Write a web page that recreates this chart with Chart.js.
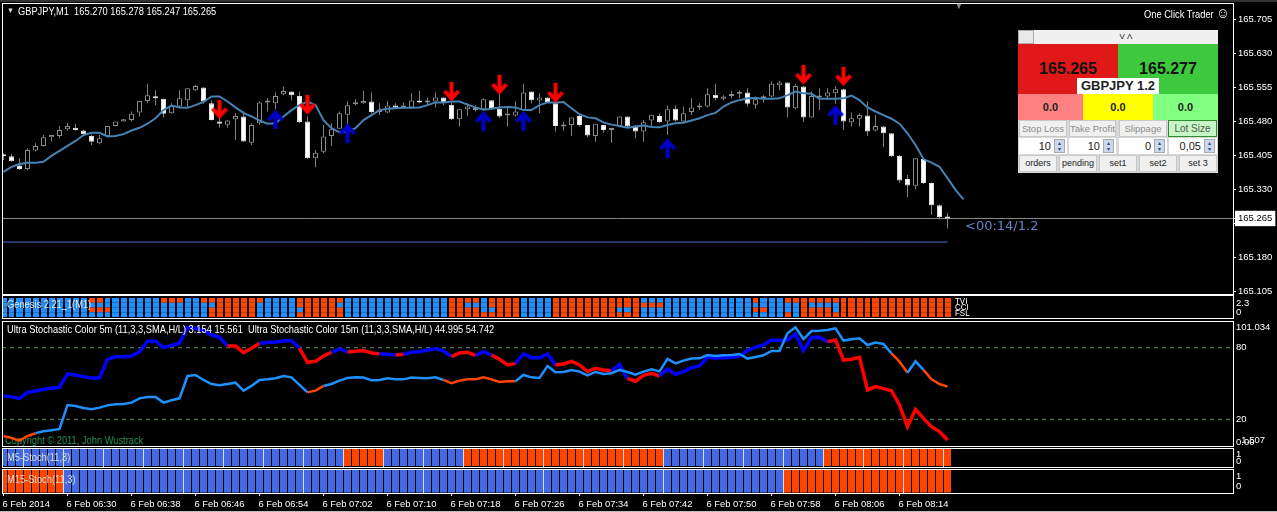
<!DOCTYPE html>
<html>
<head>
<meta charset="utf-8">
<title>GBPJPY M1</title>
<script src="https://cdn.jsdelivr.net/npm/chart.js@4/dist/chart.umd.js"></script>
<style>
  html, body { margin: 0; padding: 0; background: #000; width: 1277px; height: 512px; overflow: hidden; }
  body { font: 10.5px "Liberation Sans", sans-serif; color: #fff; }
  canvas { position: absolute; left: 0; z-index: 1; }
  .t { position: absolute; white-space: pre; z-index: 2; line-height: 12px; transform: scaleX(.885); transform-origin: left top; }
  #copyright { z-index: 0; color: #2e8b57; left: 5px; top: 434px; }
  #panel { position: absolute; left: 1018px; top: 30px; width: 200px; height: 143px; background: #d8d8d8; z-index: 3; color: #222; }
  #panel div { position: absolute; text-align: center; box-sizing: border-box; }
  .btn { background: #f0f0f0; border: 1px solid #c8c8c8; font-size: 9px; line-height: 15px; color: #222; }
  .gr { color: #8c8c8c; font-size: 9.5px; }
  .num { background: #fff; font-size: 11px; line-height: 16px; text-align: right !important; padding-right: 16px; }
  #panel .spin { width: 11px; height: 14px; background: #c9d8ee; right: 2px; top: 1px; border: 1px solid #aaa; color: #446; font-size: 6px; line-height: 6px; }
  .big { font: bold 16px "Liberation Sans", sans-serif; line-height: 50px; color: #111; padding-bottom: 4px; }
  .zero { font: bold 11px "Liberation Sans", sans-serif; line-height: 26px; color: #222; }
</style>
</head>
<body>
<div style="position:absolute;left:0;top:0;width:1277px;height:2px;background:#333"></div>
<div style="position:absolute;left:0;top:511px;width:1277px;height:1px;background:#bbb"></div>
<canvas id="mainPane" width="1277" height="297" style="top:3px"></canvas>
<canvas id="genesisPane" width="1277" height="24" style="top:295px"></canvas>
<canvas id="stochPane" width="1277" height="126" style="top:321px"></canvas>
<canvas id="m5Pane" width="1277" height="20" style="top:448px"></canvas>
<canvas id="m15Pane" width="1277" height="43" style="top:469px"></canvas>

<div class="t" style="left:7px;top:5px;font-size:8px;color:#ddd">▼</div>
<div class="t" style="left:18px;top:5px">GBPJPY,M1  165.270 165.278 165.247 165.265</div>
<div class="t" style="left:955px;top:0;color:#888;font-size:9px">▼</div>
<div class="t" style="left:1144px;top:7px">One Click Trader <span style="font-size:15px">☺</span></div>
<div class="t" style="left:965px;top:218px;font:13px 'DejaVu Sans',sans-serif;color:#6484c8;transform:none">&lt;00:14/1.2</div>
<div class="t" style="left:7px;top:298px;color:#e8e8e8">Genesis 2.21_1(M1)</div>
<div class="t" style="left:955px;top:298px;font-size:9px;line-height:6px">TVI
CCI
FSL</div>
<div class="t" style="left:7px;top:323px">Ultra Stochastic Color 5m (11,3,3,SMA,H/L) 3.154 15.561  Ultra Stochastic Color 15m (11,3,3,SMA,H/L) 44.995 54.742</div>
<div class="t" id="copyright">Copyright © 2011, John Wustrack</div>
<div class="t" style="left:7px;top:451px;color:#ddd">M5-Stoch(11,3)</div>
<div class="t" style="left:7px;top:473px;color:#ddd">M15-Stoch(11,3)</div>

<div id="panel">
  <div style="left:0;top:0;width:16px;height:14px;background:#e8e8e8;border:1px solid #aaa"></div>
  <div style="left:16px;top:0;width:184px;height:14px;background:#f0f0f0;font-size:8px;line-height:14px">V Λ</div>
  <div class="big" style="left:0;top:14px;width:100px;height:50px;background:#e01818">165.265</div>
  <div class="big" style="left:100px;top:14px;width:100px;height:50px;background:#3ec83e">165.277</div>
  <div style="left:59px;top:48px;width:82px;height:16px;background:#fff;font:bold 13px 'Liberation Sans',sans-serif;line-height:16px">GBPJPY 1.2</div>
  <div class="zero" style="left:0;top:64px;width:65px;height:26px;background:#ff8080">0.0</div>
  <div class="zero" style="left:65px;top:64px;width:70px;height:26px;background:#ffff00">0.0</div>
  <div class="zero" style="left:135px;top:64px;width:65px;height:26px;background:#80ff80">0.0</div>
  <div class="btn gr" style="left:1px;top:90px;width:48px;height:17px">Stop Loss</div>
  <div class="btn gr" style="left:51px;top:90px;width:47px;height:17px;white-space:nowrap">Take Profit</div>
  <div class="btn gr" style="left:101px;top:90px;width:48px;height:17px">Slippage</div>
  <div class="btn" style="left:150px;top:90px;width:49px;height:17px;background:#c4f7c4;border-color:#2e8b2e;font-size:10px;color:#555">Lot Size</div>
  <div class="num" style="left:1px;top:108px;width:48px;height:16px">10<div class="spin">▴<br>▾</div></div>
  <div class="num" style="left:51px;top:108px;width:47px;height:16px">10<div class="spin">▴<br>▾</div></div>
  <div class="num" style="left:101px;top:108px;width:48px;height:16px">0<div class="spin">▴<br>▾</div></div>
  <div class="num" style="left:151px;top:108px;width:48px;height:16px">0,05<div class="spin">▴<br>▾</div></div>
  <div class="btn" style="left:1px;top:125px;width:38px;height:17px">orders</div>
  <div class="btn" style="left:41px;top:125px;width:38px;height:17px">pending</div>
  <div class="btn" style="left:81px;top:125px;width:38px;height:17px">set1</div>
  <div class="btn" style="left:121px;top:125px;width:38px;height:17px">set2</div>
  <div class="btn" style="left:161px;top:125px;width:38px;height:17px">set 3</div>
</div>

<script>
// candles, one per minute from 06:22
const opens = [165.404,165.402,165.382,165.374,165.415,165.425,165.444,165.447,165.462,165.465,
  165.459,165.447,165.431,165.447,165.469,165.479,165.482,165.499,165.524,165.534,
  165.529,165.497,165.512,165.526,165.548,165.554,165.519,165.479,165.472,165.484,
  165.490,165.432,165.475,165.521,165.519,165.539,165.545,165.535,165.479,165.398,
  165.412,165.447,165.463,165.494,165.517,165.519,165.523,165.500,165.499,165.514,
  165.510,165.510,165.525,165.521,165.523,165.532,165.516,165.484,165.506,165.504,
  165.506,165.526,165.507,165.492,165.492,165.504,165.545,165.525,165.532,165.519,
  165.468,165.471,165.491,165.471,165.447,165.471,165.460,165.469,165.490,165.468,
  165.457,165.481,165.491,165.479,165.507,165.479,165.500,165.510,165.512,165.538,
  165.529,165.535,165.540,165.543,165.516,165.530,165.534,165.559,165.565,165.508,
  165.556,165.488,165.532,165.534,165.541,165.550,165.477,165.485,165.492,165.459,
  165.468,165.453,165.403,165.352,165.337,165.396,165.343,165.294,165.268];
const highs = [165.409,165.407,165.398,165.420,165.431,165.449,165.449,165.469,165.476,165.474,
  165.460,165.450,165.449,165.469,165.479,165.484,165.501,165.524,165.562,165.548,
  165.529,165.519,165.548,165.552,165.560,165.554,165.526,165.488,165.482,165.497,
  165.501,165.475,165.523,165.530,165.543,165.556,165.545,165.545,165.490,165.416,
  165.471,165.475,165.501,165.523,165.528,165.547,165.543,165.519,165.524,165.519,
  165.521,165.541,165.547,165.532,165.543,165.532,165.526,165.506,165.519,165.515,
  165.530,165.526,165.541,165.512,165.523,165.562,165.545,165.541,165.532,165.523,
  165.479,165.488,165.493,165.471,165.474,165.471,165.465,165.490,165.490,165.471,
  165.482,165.494,165.497,165.515,165.515,165.512,165.530,165.519,165.552,165.562,
  165.537,165.547,165.548,165.552,165.534,165.537,165.567,165.569,165.565,165.562,
  165.557,165.545,165.552,165.552,165.557,165.551,165.499,165.497,165.523,165.493,
  165.469,165.453,165.405,165.361,165.398,165.398,165.344,165.296,165.277];
const lows = [165.394,165.390,165.372,165.372,165.413,165.424,165.435,165.442,165.459,165.459,
  165.450,165.427,165.429,165.446,165.468,165.479,165.479,165.490,165.519,165.515,
  165.488,165.496,165.510,165.508,165.547,165.518,165.481,165.465,165.465,165.438,
  165.434,165.427,165.471,165.501,165.506,165.537,165.525,165.475,165.396,165.378,
  165.409,165.425,165.463,165.438,165.515,165.518,165.497,165.493,165.497,165.507,
  165.507,165.508,165.519,165.515,165.510,165.515,165.482,165.468,165.491,165.501,
  165.504,165.506,165.486,165.468,165.490,165.503,165.519,165.497,165.521,165.457,
  165.459,165.447,165.468,165.444,165.434,165.454,165.432,165.466,165.466,165.442,
  165.434,165.469,165.475,165.449,165.479,165.478,165.493,165.504,165.510,165.525,
  165.526,165.530,165.530,165.512,165.507,165.521,165.532,165.548,165.488,165.506,
  165.478,165.487,165.504,165.528,165.518,165.460,165.468,165.468,165.447,165.457,
  165.422,165.400,165.344,165.312,165.329,165.341,165.273,165.263,165.243];
const closes = [165.402,165.391,165.374,165.416,165.425,165.444,165.449,165.460,165.469,165.460,
  165.451,165.434,165.442,165.469,165.479,165.484,165.496,165.524,165.537,165.530,
  165.496,165.513,165.530,165.552,165.557,165.523,165.482,165.474,165.481,165.491,
  165.435,165.471,165.521,165.522,165.535,165.546,165.537,165.478,165.398,165.410,
  165.446,165.462,165.497,165.515,165.519,165.524,165.500,165.504,165.514,165.509,
  165.512,165.525,165.521,165.523,165.532,165.521,165.484,165.506,165.512,165.507,
  165.528,165.507,165.490,165.493,165.501,165.543,165.526,165.532,165.522,165.469,
  165.469,165.488,165.471,165.448,165.474,165.460,165.464,165.490,165.468,165.457,
  165.477,165.494,165.478,165.506,165.481,165.497,165.510,165.514,165.539,165.530,
  165.534,165.537,165.542,165.518,165.528,165.532,165.562,165.565,165.510,165.557,
  165.488,165.535,165.534,165.543,165.550,165.479,165.486,165.493,165.457,165.469,
  165.453,165.402,165.349,165.338,165.398,165.343,165.294,165.268,165.265];
const movingAvg = [165.368,165.379,165.385,165.388,165.388,165.390,165.403,165.414,165.425,165.436,
  165.449,165.454,165.454,165.446,165.447,165.451,165.459,165.465,165.474,165.486,
  165.504,165.514,165.510,165.509,165.515,165.522,165.534,165.534,165.523,165.510,
  165.498,165.490,165.481,165.474,165.475,165.490,165.504,165.515,165.523,165.515,
  165.482,165.464,165.455,165.457,165.464,165.482,165.493,165.504,165.507,165.508,
  165.509,165.509,165.510,165.515,165.521,165.521,165.523,165.523,165.516,165.510,
  165.505,165.507,165.510,165.511,165.510,165.504,165.504,165.515,165.521,165.521,
  165.522,165.508,165.495,165.488,165.486,165.477,165.472,165.469,165.465,165.468,
  165.470,165.467,165.466,165.471,165.475,165.476,165.481,165.486,165.493,165.498,
  165.512,165.521,165.526,165.530,165.531,165.529,165.529,165.530,165.537,165.545,
  165.541,165.540,165.529,165.529,165.529,165.530,165.536,165.526,165.510,165.501,
  165.493,165.485,165.474,165.453,165.427,165.396,165.388,165.379,165.354,165.328,165.307];

// signal arrows: bar index and price at the middle of the glyph
const sellBars = [27,38,56,62,69,100,105];
const sellPrices = [165.505,165.515,165.544,165.559,165.541,165.581,165.578];
const buyBars = [34,43,60,65,83,104];
const buyPrices = [165.484,165.454,165.481,165.481,165.421,165.494];

const lastPrice = 165.265;
const lowerLinePrice = 165.213;
const lastBar = 118;
const priceTicks = [165.705,165.63,165.555,165.48,165.405,165.33,165.255,165.18,165.105,165.265];

// Genesis: bars where each of the four rows is orange, top row first
const genesisRow1 = [11,12,20,21,22,25,26,27,28,29,30,31,32,37,38,39,40,41,42,56,57,58,59,61,62,63,64,
  69,70,71,72,73,74,75,76,77,78,79,94,98,99,100,101,102,103,104,105,106,107,108,109,110,111,112,113,114,115,116,117,118];
const genesisRow2 = [27,28,29,30,31,37,38,39,40,41,56,57,61,62,63,64,69,70,71,72,73,74,75,76,77,78,79,80,81,82,100,
  105,106,107,108,109,110,111,112,113,114,115,116,117,118];
const genesisRow3 = [11,12,13,26,27,28,29,30,31,38,39,40,41,42,56,57,58,59,62,63,64,69,70,71,72,73,74,75,76,79,94,95,100,101,102,103,
  105,106,107,108,109,110,111,112,113,114,115,116,117,118];
const genesisRow4 = [26,27,28,29,30,31,37,38,39,40,41,42,56,57,58,59,60,61,62,63,64,69,70,71,72,73,74,75,76,77,78,79,98,100,101,102,103,104,
  105,106,107,108,109,110,111,112,113,114,115,116,117,118];
const genesisTickAt = [2.95,1.05];
const genesisTickText = ['2.3','0'];

const stoch5m = [39.6,39.0,37.3,42.6,43.8,45.2,46.0,46.8,58.0,57.2,55.8,54.7,54.7,70.3,72.5,72.5,73.1,76.7,85.4,85.4,
  80.1,82.0,83.7,97.1,96.3,94.3,90.7,88.7,81.5,81.5,75.9,79.5,83.7,84.3,84.8,85.7,86.0,79.5,67.8,68.6,
  73.1,76.2,79.0,76.5,77.0,77.6,75.6,75.0,74.5,73.9,74.5,76.2,76.7,78.1,79.2,77.3,72.5,75.6,76.2,73.7,
  76.7,73.9,70.3,65.6,66.9,74.8,71.7,71.7,74.8,65.6,66.4,68.6,65.6,60.0,62.8,61.4,60.8,66.1,54.1,51.9,
  56.9,58.6,56.3,62.2,57.7,60.0,63.3,64.7,72.0,71.4,71.7,72.0,73.1,77.6,80.4,82.3,86.5,86.0,86.5,91.5,
  77.6,88.5,88.7,85.1,86.5,69.7,70.3,72.0,44.6,47.4,45.7,44.0,32.0,13.9,28.4,20.8,13.9,9.7,2.7];
const stoch15m = [6.0,4.4,2.1,6.0,8.3,10.0,10.8,11.9,32.0,31.2,29.5,28.4,29.8,31.7,32.6,32.9,34.0,37.6,38.7,38.7,
  34.0,36.0,37.6,56.3,57.2,53.0,49.6,48.5,49.6,50.7,44.0,48.0,53.0,53.5,54.4,56.3,55.2,48.8,42.6,44.0,
  48.0,49.6,52.4,54.7,55.2,55.0,52.7,53.0,54.4,53.5,53.5,55.0,54.7,54.4,55.2,53.0,50.2,52.4,53.5,53.5,
  55.2,53.5,51.3,51.9,51.9,57.2,55.2,54.7,64.7,59.4,59.7,61.4,60.0,56.9,59.7,58.0,58.6,61.4,59.7,57.4,
  60.0,61.9,60.2,70.6,66.9,69.2,70.9,71.1,73.9,73.1,73.7,73.9,74.8,70.9,72.3,73.7,77.3,77.3,92.1,97.1,
  87.3,94.0,94.3,94.9,96.3,86.0,87.1,87.9,82.3,84.3,83.2,75.3,68.4,59.1,68.6,61.4,53.5,49.6,47.4];
const stoch5mRed = [[28,32],[37,41],[43,47],[49,50],[56,59],[61,64],[69,76],[78,82],[103,118]];
const stoch15mOrange = [[0,4],[38,40],[55,64],[111,113],[115,118]];
const stochLevels = [80,20];
const stochTickAt = [97.3,80,20,2.5,0.3];
const stochTickText = ['101.034','80','20','  1.507','0.00'];

const m5Orange = [[43,47],[58,82],[103,118]];
const m5Separators = [2.5,7.5,12.5,17.5,22.5,27.5,32.5,37.5,42.5,47.5,52.5,57.5,62.5,67.5,72.5,77.5,82.5,87.5,92.5,97.5,102.5,107.5,112.5,117.5];
const m5TickAt = [0.71,0.29];
const m15Orange = [[0,7],[98,118]];
const m15Separators = [7.5,22.5,37.5,52.5,67.5,82.5,97.5,112.5];
const m15TickAt = [0.70,0.29];
const flagTickText = ['1','0'];

const timeTickBars = [0,8,16,24,32,40,48,56,64,72,80,88,96,104,112];
const timeTickText = ['6 Feb 2014','6 Feb 06:30','6 Feb 06:38','6 Feb 06:46','6 Feb 06:54','6 Feb 07:02','6 Feb 07:10','6 Feb 07:18',
  '6 Feb 07:26','6 Feb 07:34','6 Feb 07:42','6 Feb 07:50','6 Feb 07:58','6 Feb 08:06','6 Feb 08:14'];

const BLUE_BAR = '#1e90ff', ORANGE = '#ff4500', ROYAL = '#4169e1';
const xMin = -0.1875, xMax = 153.6875;
const barIndex = opens.map((_, i) => i);
const inRanges = (i, ranges) => ranges.some(r => i >= r[0] && i <= r[1]);
const inSegments = (i, ranges) => ranges.some(r => i >= r[0] && i < r[1]);
const separatorTicks = barIndex.map(i => i + 0.5);

// white box around every pane
const paneBox = {
  id: 'paneBox',
  afterDraw(chart) {
    const a = chart.chartArea, ctx = chart.ctx;
    ctx.save();
    ctx.strokeStyle = '#fff';
    ctx.lineWidth = 1;
    ctx.strokeRect(a.left + 0.5, a.top + 0.5, a.right - a.left, a.bottom - a.top);
    ctx.restore();
  }
};

function arrowImage(color, up) {
  const c = document.createElement('canvas');
  c.width = 18; c.height = 20;
  const g = c.getContext('2d');
  if (up) { g.translate(0, 20); g.scale(1, -1); }
  g.strokeStyle = color;
  g.lineWidth = 4;
  g.beginPath();
  g.moveTo(9, 0); g.lineTo(9, 17);
  g.moveTo(2, 9); g.lineTo(9, 16.5); g.lineTo(16, 9);
  g.stroke();
  return c;
}

function yAxis(min, max, at, labels, extra) {
  return Object.assign({
    position: 'right', min, max,
    grid: { display: false, drawTicks: false },
    border: { display: false },
    afterBuildTicks: s => { s.ticks = at.map(v => ({ value: v })); },
    // fixed axis width, and no extra room for the tick labels
    afterFit: s => { s.width = 44; s.paddingTop = 0; s.paddingBottom = 0; },
    ticks: {
      autoSkip: false, padding: 3, color: '#fff',
      font: { family: 'Liberation Sans', size: 9.5 },
      callback: v => labels[at.indexOf(v)]
    }
  }, extra);
}

// x axis without labels, optional bar separators on top of the bars
function xAxis(lineColor, lineWidth) {
  return {
    type: 'linear', min: xMin, max: xMax, offset: false,
    border: { display: false },
    afterBuildTicks: s => { s.ticks = separatorTicks.map(v => ({ value: v })); },
    ticks: { display: false, autoSkip: false },
    grid: { z: 1, offset: false, drawTicks: false, color: lineColor, lineWidth: lineWidth || 1 }
  };
}

function pane(id, datasets, x, y, bottomPad) {
  return new Chart(document.getElementById(id), {
    type: 'bar',
    data: { datasets },
    options: {
      responsive: false, animation: false, devicePixelRatio: 1,
      events: [],
      layout: { autoPadding: false, padding: { left: 2, top: 0, right: 0, bottom: bottomPad } },
      plugins: { legend: { display: false }, tooltip: { enabled: false } },
      elements: { point: { radius: 0 } },
      scales: { x, y }
    },
    plugins: [paneBox]
  });
}

function flatLine(price, from, to, color, width, order, dash) {
  return {
    type: 'line', data: [{ x: from, y: price }, { x: to, y: price }],
    borderColor: color, borderWidth: width, borderDash: dash || [], pointRadius: 0, order
  };
}

function flagBars(orangeRanges) {
  return [{
    data: barIndex.map(i => ({ x: i, y: [0, 1] })),
    backgroundColor: barIndex.map(i => inRanges(i, orangeRanges) ? ORANGE : ROYAL),
    barThickness: 8, grouped: false, inflateAmount: 0
  }];
}

// main pane
const isUp = barIndex.map(i => closes[i] > opens[i]);
pane('mainPane', [
  flatLine(lastPrice, xMin, xMax, '#8a8a8a', 1, 9),
  flatLine(lowerLinePrice, xMin, lastBar, '#4a6fd0', 1, 9),
  {
    data: barIndex.map(i => ({ x: i, y: [lows[i], highs[i]] })),
    backgroundColor: '#808080', barThickness: 1, grouped: false, inflateAmount: 0, order: 6
  },
  {
    data: barIndex.map(i => ({ x: i, y: [opens[i], closes[i]] })),
    backgroundColor: barIndex.map(i => isUp[i] ? '#000' : '#fff'),
    borderColor: barIndex.map(i => isUp[i] ? '#8c8c8c' : '#e0e0e0'),
    borderWidth: 1, borderSkipped: false, barThickness: 5, grouped: false, minBarLength: 2, inflateAmount: 0, order: 5
  },
  {
    type: 'line', data: movingAvg.map((v, i) => ({ x: i, y: v })),
    borderColor: '#4682b4', borderWidth: 2, pointRadius: 0, tension: 0, order: 4
  },
  {
    type: 'line', showLine: false, data: sellBars.map((b, i) => ({ x: b, y: sellPrices[i] })),
    pointStyle: arrowImage('#ff0000', false), pointRadius: 9, order: 3
  },
  {
    type: 'line', showLine: false, data: buyBars.map((b, i) => ({ x: b, y: buyPrices[i] })),
    pointStyle: arrowImage('#0000cd', true), pointRadius: 9, order: 3
  }
], { type: 'linear', display: false, min: xMin, max: xMax, offset: false },
yAxis(165.0984, 165.7403, priceTicks, priceTicks.map(v => v.toFixed(3)), {
  grid: { drawOnChartArea: false, drawTicks: true, tickLength: 3, tickColor: '#fff' },
  ticks: {
    autoSkip: false, padding: 2,
    font: { family: 'Liberation Sans', size: 9.5 },
    color: c => c.tick && c.tick.value === lastPrice ? '#000' : '#fff',
    showLabelBackdrop: c => !!c.tick && c.tick.value === lastPrice,
    backdropColor: '#fff',
    backdropPadding: { x: 3, y: 2 },
    callback: v => v.toFixed(3)
  }
}), 6);

// Genesis heat rows
const genesisRows = [genesisRow4, genesisRow3, genesisRow2, genesisRow1];
pane('genesisPane', genesisRows.map((row, r) => ({
  data: barIndex.map(i => ({ x: i, y: [r, r + 1] })),
  backgroundColor: barIndex.map(i => row.includes(i) ? ORANGE : BLUE_BAR),
  barThickness: 8, grouped: false, inflateAmount: 0
})), xAxis('#000', 2), yAxis(-0.21, 4.63, genesisTickAt, genesisTickText), 1);

// stochastic pane
pane('stochPane', [
  ...stochLevels.map(v => flatLine(v, xMin, xMax, '#5f8f5f', 1, 9, [4, 4])),
  {
    type: 'line', data: stoch5m.map((v, i) => ({ x: i, y: v })),
    borderColor: '#0000ff', borderWidth: 3.5, pointRadius: 0, order: 3,
    segment: { borderColor: c => inSegments(c.p0DataIndex, stoch5mRed) ? '#ff0000' : '#0000ff' }
  },
  {
    type: 'line', data: stoch15m.map((v, i) => ({ x: i, y: v })),
    borderColor: BLUE_BAR, borderWidth: 2.5, pointRadius: 0, order: 2,
    segment: { borderColor: c => inSegments(c.p0DataIndex, stoch15mOrange) ? ORANGE : BLUE_BAR }
  }
], { type: 'linear', display: false, min: xMin, max: xMax, offset: false },
yAxis(-2.35, 102.4, stochTickAt, stochTickText), 1);

// M5 / M15 flag strips
pane('m5Pane', flagBars(m5Orange),
  xAxis(c => m5Separators.includes(c.tick.value) ? '#ddd' : '#000'),
  yAxis(-0.059, 1.059, m5TickAt, flagTickText), 1);

const m15X = xAxis(c => m15Separators.includes(c.tick.value) ? '#ddd' : (timeTickBars.includes(c.tick.value) ? 'transparent' : '#000'));
m15X.afterBuildTicks = s => {
  s.ticks = separatorTicks.concat(timeTickBars).sort((a, b) => a - b).map(v => ({ value: v }));
};
m15X.afterFit = s => { s.height = 19; s.paddingLeft = 0; s.paddingRight = 0; };
m15X.ticks = {
  display: true, autoSkip: false, maxRotation: 0, align: 'start', padding: 3, labelOffset: -1,
  color: '#fff', font: { family: 'Liberation Sans', size: 9.4 },
  callback: v => timeTickBars.includes(v) ? timeTickText[timeTickBars.indexOf(v)] : ''
};
m15X.grid = Object.assign(m15X.grid, {
  drawTicks: true, tickLength: 3,
  tickColor: c => timeTickBars.includes(c.tick.value) ? '#fff' : 'transparent'
});
pane('m15Pane', flagBars(m15Orange), m15X, yAxis(-0.02, 1.044, m15TickAt, flagTickText), 0);
</script>
</body>
</html>
